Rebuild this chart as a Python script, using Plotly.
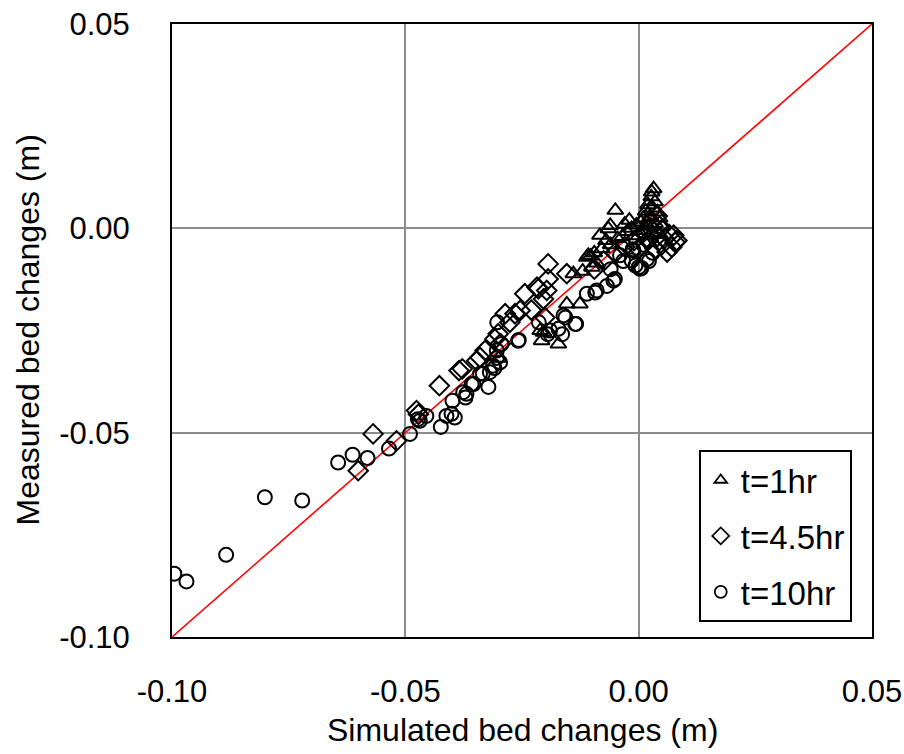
import plotly.graph_objects as go

# Simulated vs. measured bed changes (m) for three elapsed times
sim_1hr = [0.0032, 0.0028, 0.0027, 0.0035, 0.0020, 0.0030, 0.0015, 0.0040, 0.0025, 0.0010,
           0.0045, 0.0005, 0.0035, 0.0020, -0.0005, 0.0050, 0.0010, -0.0015, 0.0030, -0.0025,
           0.0000, -0.0035, 0.0045, -0.0050, -0.0061, -0.0045, -0.0083, -0.0070, -0.0060, -0.0079,
           -0.0108, -0.0095, -0.0090, -0.0100, -0.0140, -0.0120, -0.0154, -0.0126, -0.0211, -0.0208,
           -0.0172, -0.0204, -0.0030, -0.0020, -0.0111, -0.0300, -0.0103, -0.0065]
meas_1hr = [0.0097, 0.0089, 0.0077, 0.0065, 0.0058, 0.0050, 0.0042, 0.0040, 0.0030, 0.0025,
            0.0025, 0.0015, 0.0012, 0.0005, 0.0008, 0.0005, -0.0005, 0.0000, -0.0010, -0.0008,
            -0.0018, -0.0020, -0.0015, 0.0044, 0.0007, -0.0025, -0.0017, -0.0030, -0.0040, -0.0050,
            -0.0066, -0.0060, -0.0085, -0.0095, -0.0111, -0.0105, -0.0185, -0.0185, -0.0250, -0.0275,
            -0.0283, -0.0254, 0.0010, 0.0020, -0.0071, -0.0318, -0.0068, -0.0001]

sim_4_5hr = [-0.0601, -0.0569, -0.0519, -0.0476, -0.0472, -0.0427, -0.0385, -0.0378, -0.0347, -0.0340,
             -0.0329, -0.0308, -0.0301, -0.0296, -0.0286, -0.0276, -0.0265, -0.0254, -0.0244, -0.0218,
             -0.0204, -0.0201, -0.0197, -0.0194, -0.0194, -0.0154, -0.0215, -0.0230,
             0.0082, 0.0075, 0.0078, 0.0071, 0.0061, 0.0050, 0.0040, 0.0030, 0.0045, 0.0020,
             0.0010, 0.0035, 0.0055, -0.0010, -0.0030, -0.0050, -0.0075, -0.0095, 0.0000, 0.0025,
             0.0040, 0.0065]
meas_4_5hr = [-0.0593, -0.0503, -0.0520, -0.0446, -0.0455, -0.0385, -0.0348, -0.0344, -0.0324, -0.0316,
              -0.0299, -0.0271, -0.0258, -0.0282, -0.0209, -0.0230, -0.0209, -0.0201, -0.0160, -0.0144,
              -0.0173, -0.0218, -0.0152, -0.0124, -0.0087, -0.0111, -0.0148, -0.0200,
              -0.0030, -0.0017, -0.0034, -0.0046, -0.0058, -0.0040, -0.0020, -0.0005, 0.0005, -0.0030,
              -0.0010, -0.0050, -0.0025, -0.0030, -0.0045, -0.0060, -0.0080, -0.0100, -0.0050, 0.0015,
              0.0030, -0.0015]

sim_10hr = [-0.0995, -0.0969, -0.0884, -0.0801, -0.0721, -0.0644, -0.0613, -0.0581, -0.0535, -0.0490,
            -0.0473, -0.0455, -0.0424, -0.0412, -0.0394, -0.0399, -0.0371, -0.0376, -0.0354, -0.0322,
            -0.0334, -0.0309, -0.0297, -0.0304, -0.0303, -0.0257, -0.0358, -0.0369, -0.0401, -0.0469,
            -0.0304, -0.0294, -0.0312, -0.0319, -0.0340, -0.0258, -0.0214, -0.0195, -0.0164, -0.0157,
            -0.0134, -0.0111, -0.0093, -0.0068, -0.0051, -0.0033, -0.0013, -0.0007, 0.0006, 0.0022,
            -0.0090, -0.0054, -0.0015, 0.0000, -0.0011, 0.0003, 0.0018, -0.0040, 0.0030, 0.0010,
            -0.0060, -0.0172, -0.0190, -0.0161, -0.0136]
meas_10hr = [-0.0845, -0.0864, -0.0799, -0.0658, -0.0666, -0.0573, -0.0554, -0.0562, -0.0539, -0.0503,
             -0.0467, -0.0459, -0.0486, -0.0459, -0.0463, -0.0422, -0.0414, -0.0401, -0.0381, -0.0388,
             -0.0355, -0.0342, -0.0328, -0.0317, -0.0230, -0.0273, -0.0381, -0.0405, -0.0454, -0.0471,
             -0.0299, -0.0283, -0.0336, -0.0352, -0.0356, -0.0275, -0.0230, -0.0259, -0.0259, -0.0218,
             -0.0234, -0.0160, -0.0157, -0.0141, -0.0124, -0.0080, -0.0051, -0.0091, -0.0097, -0.0080,
             -0.0152, -0.0128, -0.0079, -0.0095, -0.0054, -0.0099, -0.0075, -0.0066, -0.0060, -0.0040,
             -0.0100, -0.0246, -0.0250, -0.0213, -0.0234]

# 1:1 reference line
line_x = [-0.10, 0.05]
line_y = [-0.10, 0.05]

tick_vals = [-0.10, -0.05, 0.00, 0.05]
tick_text = ["-0.10", "-0.05", "0.00", "0.05"]

FONT = "Arial, Liberation Sans, sans-serif"

# figure and plotting-area geometry (px)
W, H = 904, 754
M_L, M_R, M_T, M_B = 172, 32, 24, 117
plot_w = W - M_L - M_R
plot_h = H - M_T - M_B

fig = go.Figure()

fig.add_trace(go.Scatter(
    x=line_x, y=line_y, mode="lines",
    line=dict(color="#ff0000", width=1.6),
    showlegend=False, hoverinfo="skip",
))

series = [
    ("t=1hr", sim_1hr, meas_1hr, "triangle-up-open", 14, 11),
    ("t=4.5hr", sim_4_5hr, meas_4_5hr, "diamond-open", 15, 13),
    ("t=10hr", sim_10hr, meas_10hr, "circle-open", 14, 12),
]
for name, xs, ys, sym, size, legend_size in series:
    fig.add_trace(go.Scatter(
        x=xs, y=ys, mode="markers", name=name, legendgroup=name,
        showlegend=False,
        marker=dict(symbol=sym, size=size, color="black",
                    line=dict(color="black", width=2)),
    ))
    # legend key with the smaller symbol used in the key box
    fig.add_trace(go.Scatter(
        x=[None], y=[None], mode="markers", name=name, legendgroup=name,
        marker=dict(symbol=sym, size=legend_size, color="black",
                    line=dict(color="black", width=1.8)),
    ))

axis_common = dict(
    tickvals=tick_vals, ticktext=tick_text,
    showgrid=True, gridcolor="#8c8c8c", gridwidth=2,
    zeroline=False,
    showline=True, linecolor="black", linewidth=2, mirror=True,
    ticks="", tickfont=dict(family=FONT, size=31, color="black"),
    automargin=False,
)

fig.update_layout(
    width=W, height=H,
    margin=dict(l=M_L, r=M_R, t=M_T, b=M_B),
    paper_bgcolor="white", plot_bgcolor="white",
    font=dict(family=FONT, color="black"),
    xaxis=dict(range=[-0.10, 0.05], ticklabelstandoff=26, **axis_common),
    yaxis=dict(range=[-0.10, 0.05], ticklabelstandoff=34, **axis_common),
    legend=dict(
        x=0.7525, y=0.305, xanchor="left", yanchor="top",
        bordercolor="black", borderwidth=2, bgcolor="white",
        font=dict(family=FONT, size=33, color="black"),
        tracegroupgap=10, itemwidth=30, entrywidth=118,
    ),
    showlegend=True,
    annotations=[
        dict(text="Simulated bed changes (m)",
             x=0.5, xref="paper", xanchor="center",
             y=-(730 - (H - M_B)) / plot_h, yref="paper", yanchor="middle",
             showarrow=False, font=dict(family=FONT, size=32, color="black")),
        dict(text="Measured bed changes (m)", textangle=-90,
             x=-(M_L - 27) / plot_w, xref="paper", xanchor="center",
             y=0.5, yref="paper", yanchor="middle",
             showarrow=False, font=dict(family=FONT, size=32, color="black")),
    ],
)

fig.write_html("out.html")
